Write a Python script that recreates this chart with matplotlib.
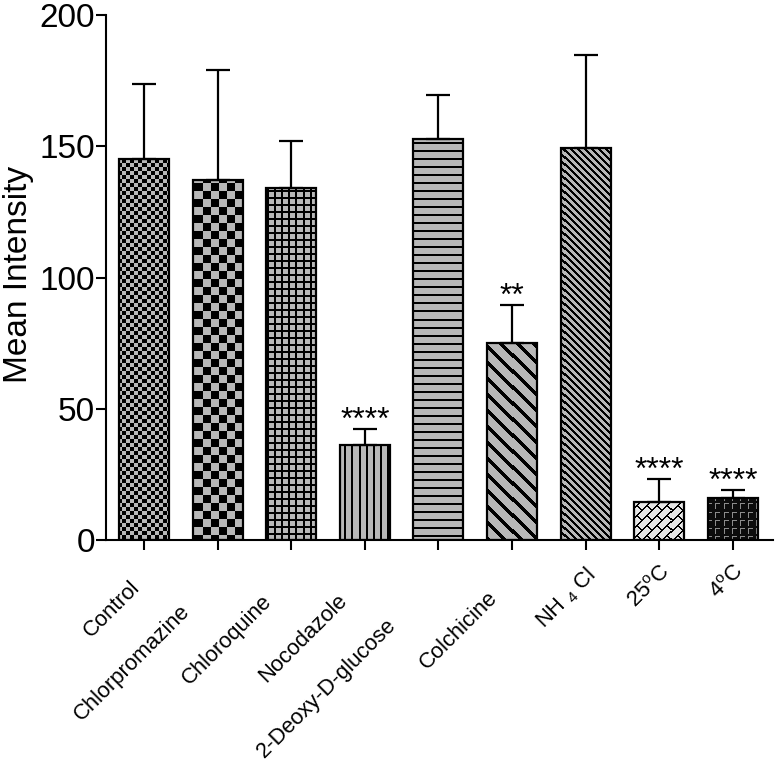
import matplotlib
matplotlib.use("Agg")
import matplotlib.pyplot as plt
import numpy as np
from matplotlib import font_manager

# ---------- data ----------
groups = ["Control", "Chlorpromazine", "Chloroquine", "Nocodazole", "2-Deoxy-D-glucose",
          "Colchicine", r"NH $_{\mathregular{4}}$ Cl", r"25$^{\mathregular{o}}$C",
          r"4$^{\mathregular{o}}$C"]
means = [145.0, 137.0, 134.0, 36.2, 152.8, 74.9, 149.2, 14.4, 16.1]
err_up = [28.7, 42.0, 18.0, 6.0, 16.7, 14.6, 35.6, 8.7, 2.8]
stars = ["", "", "", "****", "", "**", "", "****", "****"]
patterns = ["checker_fine", "checker", "grid", "vlines", "hlines",
            "diag_wide", "diag_fine", "bricks", "corners"]

# ---------- layout ----------
W, H, DPI = 776, 765, 100
AX_L, AX_R, AX_T, AX_B = 106, 773, 15, 540      # axes box in pixels
label_nudge_px = [22, 56, 43, 41, 76, 37, 4, 0, 0]   # GraphPad's uneven label placement

names = {f.name for f in font_manager.fontManager.ttflist}
main_font = "Liberation Sans" if "Liberation Sans" in names else "DejaVu Sans"
if "Liberation Sans Narrow" in names:
    xlab_font, xlab_size = "Liberation Sans Narrow", 19
else:
    xlab_font, xlab_size = main_font, 15.8
plt.rcParams["font.family"] = [main_font, "DejaVu Sans"]

GRAY = 0.72


def texture(kind, h, w):
    r, c = np.mgrid[0:h, 0:w]
    t = np.full((h, w), GRAY)
    if kind == "checker_fine":
        t[((r // 4 + c // 4) % 2) == 0] = 0
    elif kind == "checker":
        t[((r // 8 + c // 8) % 2) == 0] = 0
    elif kind == "grid":
        t[(r % 7 < 2) | (c % 7 < 2)] = 0
    elif kind == "vlines":
        t[c % 7 < 2] = 0
    elif kind == "hlines":
        t[r % 8 < 2] = 0
    elif kind == "diag_wide":
        t[(c - r) % 16 < 5] = 0
    elif kind == "diag_fine":
        t[(c - r) % 7 < 3] = 0
    elif kind == "bricks":
        t[:] = 0.9
        u, v = c + r, c - r
        band = u // 10
        t[u % 10 < 2] = 0
        t[((v + 10 * (band % 2)) % 20) < 2] = 0
    elif kind == "corners":
        t[:] = 0.05
        rr, cc = r % 8, c % 8
        t[((rr == 1) & (cc >= 1) & (cc <= 5)) | ((cc == 1) & (rr >= 1) & (rr <= 6))] = 0.55
    return t


fig = plt.figure(figsize=(W / DPI, H / DPI), dpi=DPI)
ax = fig.add_axes([AX_L / W, 1 - AX_B / H, (AX_R - AX_L) / W, (AX_B - AX_T) / H])
xlim, ylim = (-0.516, 8.546), (0, 200)

x = np.arange(len(groups))
width = 0.68
bars = ax.bar(x, means, width=width, color="none", edgecolor="black", linewidth=1.6, zorder=3)

# fill each bar with its GraphPad-style texture: one axes-sized image per pattern,
# mapped 1:1 to screen pixels and clipped to the bar outline
for b, kind in zip(bars, patterns):
    im = ax.imshow(texture(kind, AX_B - AX_T, AX_R - AX_L), extent=(*xlim, *ylim),
                   origin="upper", cmap="gray", vmin=0, vmax=1,
                   interpolation="nearest", aspect="auto", zorder=2)
    im.set_clip_path(b)

ax.errorbar(x, means, yerr=[np.zeros(len(means)), err_up], fmt="none", ecolor="black",
            elinewidth=1.6, capsize=8.5, capthick=1.6, zorder=4)

for xi, m, e, s in zip(x, means, err_up, stars):
    if s:
        ax.annotate(s, xy=(xi, m + e), xytext=(0, 0), textcoords="offset points",
                    ha="center", va="baseline", fontsize=23)

ax.set_xlim(*xlim)
ax.set_ylim(*ylim)

for side in ("top", "right"):
    ax.spines[side].set_visible(False)
for side in ("left", "bottom"):
    ax.spines[side].set_linewidth(1.5)

ax.set_yticks([0, 50, 100, 150, 200])
ax.tick_params(axis="y", direction="out", length=7, width=1.5, labelsize=24, pad=1)
ax.set_xticks(x)
ax.set_xticklabels([])
ax.tick_params(axis="x", direction="out", length=7, width=1.5)

ax.set_ylabel("Mean Intensity", fontsize=24)
ax.yaxis.set_label_coords(-0.108, 0.505)

# rotated category labels, right end anchored just below the tick
for xi, lab, nud in zip(x, groups, label_nudge_px):
    d = nud * 72 / DPI / np.sqrt(2)
    ax.annotate(lab, xy=(xi, 0), xycoords=("data", "axes fraction"),
                xytext=(0.7 - d, -15 - d), textcoords="offset points",
                rotation=45, rotation_mode="anchor", ha="right", va="top",
                fontsize=xlab_size, family=[xlab_font, "DejaVu Sans"])

fig.savefig("out.png", dpi=DPI)
